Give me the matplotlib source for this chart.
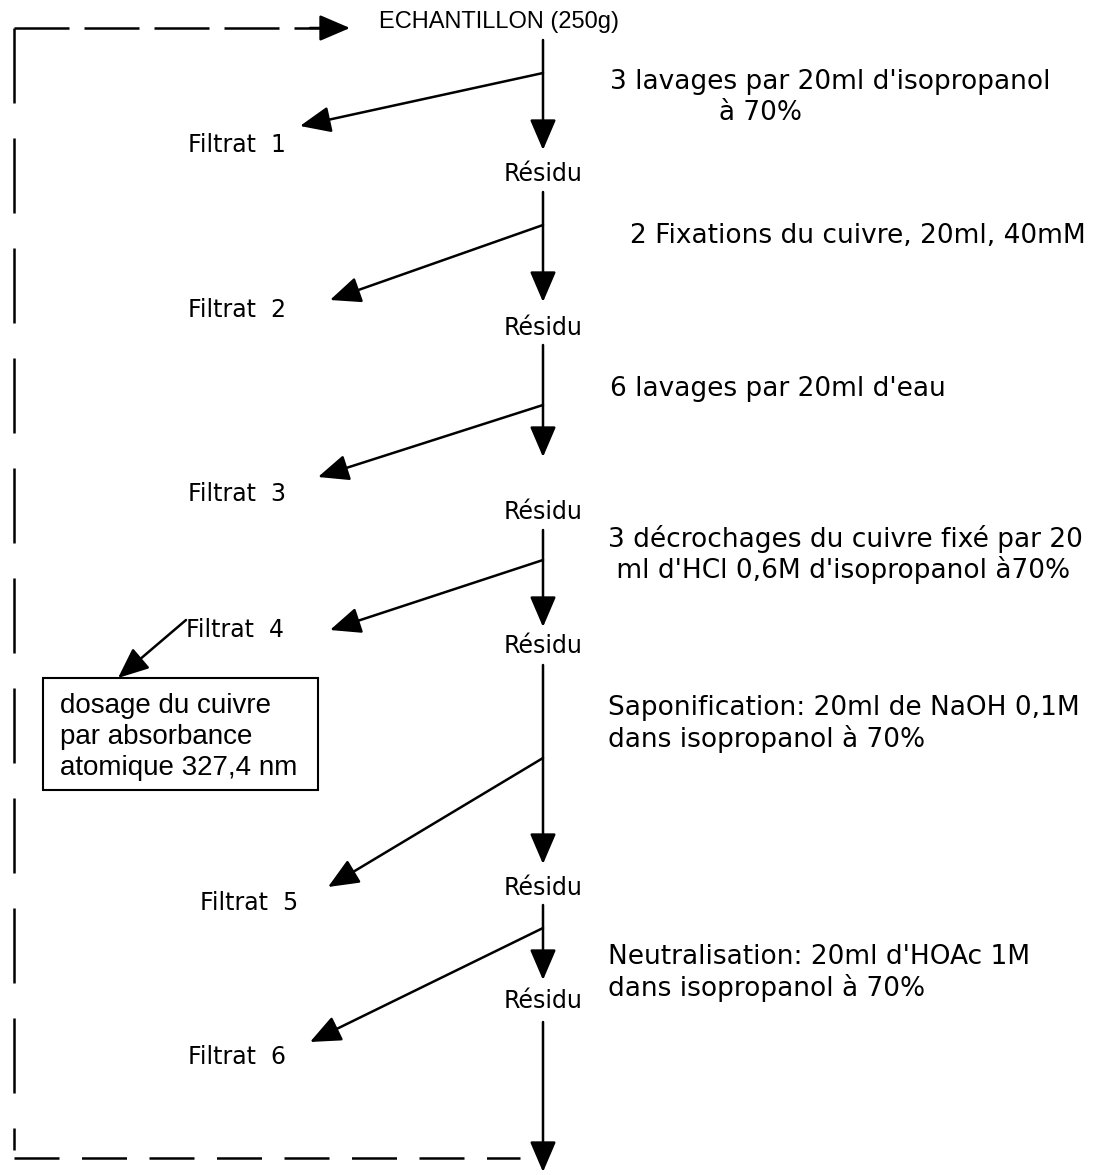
import matplotlib
matplotlib.use("Agg")
import matplotlib.pyplot as plt
from matplotlib.patches import Rectangle

# flowchart content
title = "ECHANTILLON (250g)"
residus = ["Résidu"] * 6
filtrats = ["Filtrat  1", "Filtrat  2", "Filtrat  3", "Filtrat  4", "Filtrat  5", "Filtrat  6"]
steps = [
    ["3 lavages par 20ml d'isopropanol", "             à 70%"],
    ["2 Fixations du cuivre, 20ml, 40mM"],
    ["6 lavages par 20ml d'eau"],
    ["3 décrochages du cuivre fixé par 20", " ml d'HCl 0,6M d'isopropanol à70%"],
    ["Saponification: 20ml de NaOH 0,1M", "dans isopropanol à 70%"],
    ["Neutralisation: 20ml d'HOAc 1M", "dans isopropanol à 70%"],
]
box_lines = ["dosage du cuivre", "par absorbance", "atomique 327,4 nm"]

# layout in pixel coordinates (y downwards)
xm = 543
seg_top = [40, 192, 345, 530, 665, 905, 1022]
seg_tip = [150, 302, 457, 627, 864, 980, 1172]
branch_y = [73, 225, 405, 560, 758, 928]
branch_tip = [(300, 126), (330, 300), (318, 477), (330, 630), (328, 887), (310, 1042)]
filtrat_xy = [(188, 145), (188, 310), (188, 494), (186, 630), (200, 903), (188, 1057)]
residu_y = [174, 328, 512, 646, 888, 1001]
step_xy = [(610, 82), (630, 236), (610, 389), (608, 539), (608, 708), (608, 957)]
line_gap = 31

fig = plt.figure(figsize=(10.98, 11.75), dpi=100)
ax = fig.add_axes([0, 0, 1, 1])
ax.set_xlim(0, 1098)
ax.set_ylim(1175, 0)
ax.axis("off")

fs = 17
font = "DejaVu Sans"
ap = dict(arrowstyle="-|>,head_length=1.05,head_width=0.45", color="black",
          lw=1.8, mutation_scale=18, shrinkA=0, shrinkB=0)

ax.text(499, 22, title, ha="center", va="center", fontsize=17, family="Liberation Sans")

for i in range(7):
    ax.annotate("", xy=(xm, seg_tip[i]), xytext=(xm, seg_top[i]), arrowprops=ap)

for i in range(6):
    ax.annotate("", xy=branch_tip[i], xytext=(xm, branch_y[i]), arrowprops=ap)
    fx, fy = filtrat_xy[i]
    ax.text(fx, fy, filtrats[i], ha="left", va="center", fontsize=fs, family=font)
    ax.text(xm, residu_y[i], residus[i], ha="center", va="center", fontsize=fs, family=font)
    sx, sy = step_xy[i]
    for j, line in enumerate(steps[i]):
        ax.text(sx, sy + j * line_gap, line, ha="left", va="center", fontsize=19, family=font)

# analysis box for filtrat 4
ax.add_patch(Rectangle((43, 678), 275, 112, fill=False, lw=1.5, ec="black"))
for j, line in enumerate(box_lines):
    ax.text(60, 706 + j * 31, line, ha="left", va="center", fontsize=20,
            family="Liberation Sans")
ax.annotate("", xy=(118, 678), xytext=(186, 620), arrowprops=ap)

# dashed recycle loop
ax.plot([14, 14], [28, 1150], color="black", lw=1.8, linestyle=(0, (30, 14)))
ax.plot([14, 320], [28, 28], color="black", lw=1.8, linestyle=(0, (22, 6)))
ax.annotate("", xy=(350, 28), xytext=(310, 28), arrowprops=ap)
ax.plot([14, 520], [1158, 1158], color="black", lw=1.8, linestyle=(0, (18, 9)))

fig.savefig("out.png", dpi=100)
